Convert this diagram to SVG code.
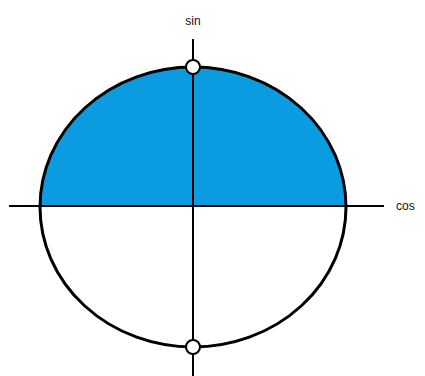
<svg xmlns="http://www.w3.org/2000/svg" width="425" height="376" viewBox="0 0 425 376">
<style>
.axis{stroke:#000;stroke-width:2;fill:none}
.lbl{font-family:"Liberation Sans",Arial,sans-serif;font-size:12px;fill:#111}
.pt{fill:#fff;stroke:#000;stroke-width:2}
</style>
<rect width="425" height="376" fill="#fff"/>
<g id="upper-half">
<path d="M40,206 A153,140 0 0 1 346,206 Z" fill="#0a9be0"/>
</g>
<g id="circle">
<ellipse cx="193" cy="207" rx="153" ry="140" fill="none" stroke="#000" stroke-width="3"/>
</g>
<g id="connectors">
<line class="axis" x1="9" y1="206" x2="384" y2="206"/>
<line class="axis" x1="193" y1="39" x2="193" y2="376"/>
</g>
<g id="sin-point"><circle class="pt" cx="193" cy="67" r="7"/></g>
<g id="neg-point"><circle class="pt" cx="193" cy="347" r="7"/></g>
<g id="sin-label"><text class="lbl" x="193" y="25" text-anchor="middle">sin</text></g>
<g id="cos-label"><text class="lbl" x="396" y="210">cos</text></g>
</svg>
